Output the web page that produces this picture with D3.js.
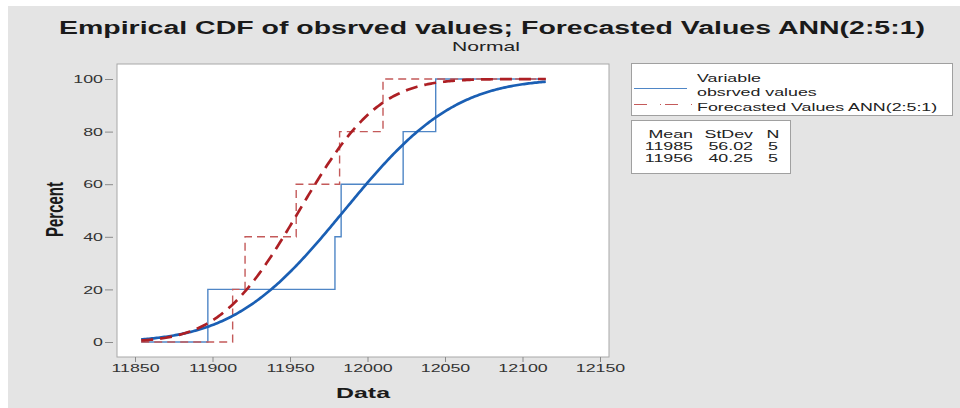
<!DOCTYPE html>
<html>
<head>
<meta charset="utf-8">
<script src="https://d3js.org/d3.v7.min.js"></script>
<style>
  body { margin: 0; background: #fff; }
  text { font-family: "Liberation Sans", Arial, sans-serif; }
</style>
</head>
<body>
<div id="chart"></div>
<script>
// values (sorted)
const observed = [11897, 11979, 11983, 12023, 12044];
const forecast = [11913, 11921, 11954, 11982, 12010];
const seriesNames = ["obsrved values", "Forecasted Values ANN(2:5:1)"];
const means = [11985, 11956];
const stdevs = [56.02, 40.25];
const counts = [5, 5];
const fitRange = [11854, 12115];
const xTicks = [11850, 11900, 11950, 12000, 12050, 12100, 12150];
const yTicks = [0, 20, 40, 60, 80, 100];

const width = 960, height = 408;
const SX = 1.55; // picture is stretched horizontally

const svg = d3.select("#chart").append("svg")
    .attr("width", width)
    .attr("height", height);

svg.append("rect")
    .attr("x", 8).attr("y", 6)
    .attr("width", width - 8).attr("height", height - 6)
    .attr("fill", "#e4e4e4");

const x = d3.scaleLinear().domain([11850, 12150]).range([135, 600]);
const y = d3.scaleLinear().domain([0, 100]).range([342, 79]);

// plot frame
svg.append("rect")
    .attr("x", 117).attr("y", 64)
    .attr("width", 609 - 117).attr("height", 357 - 64)
    .attr("fill", "#fff")
    .attr("stroke", "#a8a8a8");

// axes
const yAxis = svg.append("g")
    .attr("transform", "translate(113,0)")
    .call(d3.axisLeft(y).tickValues(yTicks).tickSize(8).tickPadding(2));
const xAxis = svg.append("g")
    .attr("transform", "translate(0,357)")
    .call(d3.axisBottom(x).tickValues(xTicks).tickFormat(d3.format("d")).tickSize(5).tickPadding(2));

[yAxis, xAxis].forEach(g => {
    g.select(".domain").remove();
    g.selectAll(".tick line").attr("stroke", "#8a8a8a");
    g.selectAll("text")
        .attr("font-size", 11.5)
        .attr("font-family", "Liberation Sans, Arial, sans-serif")
        .attr("fill", "#333")
        .attr("transform", `scale(${SX},1)`);
});
yAxis.selectAll("text").attr("x", -10 / SX);

// normal cdf
function erf(z) {
    const t = 1 / (1 + 0.3275911 * Math.abs(z));
    const p = t * (0.254829592 + t * (-0.284496736 + t * (1.421413741 + t * (-1.453152027 + t * 1.061405429))));
    const r = 1 - p * Math.exp(-z * z);
    return z >= 0 ? r : -r;
}
const normCdf = (v, m, s) => 50 * (1 + erf((v - m) / (s * Math.SQRT2)));

const fitLine = d3.line().x(d => x(d[0])).y(d => y(d[1]));
const stepLine = d3.line().x(d => x(d[0])).y(d => y(d[1])).curve(d3.curveStepAfter);

const styles = [
    {fit: "#1a5fb4", step: "#4f86c6", fitDash: null, stepDash: null},
    {fit: "#ad1f24", step: "#c45a5a", fitDash: "12,7", stepDash: "8,5"}
];

[observed, forecast].forEach((vals, i) => {
    const pts = [[fitRange[0], 0]];
    vals.forEach((v, j) => pts.push([v, (j + 1) / vals.length * 100]));
    pts.push([fitRange[1], 100]);
    svg.append("path")
        .attr("d", stepLine(pts))
        .attr("fill", "none")
        .attr("stroke", styles[i].step)
        .attr("stroke-width", 1.4)
        .attr("stroke-dasharray", styles[i].stepDash);
});

[0, 1].forEach(i => {
    const xs = d3.range(fitRange[0], fitRange[1] + 0.5, 1);
    svg.append("path")
        .attr("d", fitLine(xs.map(v => [v, normCdf(v, means[i], stdevs[i])])))
        .attr("fill", "none")
        .attr("stroke", styles[i].fit)
        .attr("stroke-width", 2.7)
        .attr("stroke-dasharray", styles[i].fitDash);
});

// helper for horizontally stretched text
function label(txt, px, py, size, opts = {}) {
    return svg.append("text")
        .attr("transform", `translate(${px},${py}) scale(${SX},1)` + (opts.rotate ? " rotate(-90)" : ""))
        .attr("font-size", size)
        .attr("font-weight", opts.bold ? "bold" : null)
        .attr("text-anchor", opts.anchor || "start")
        .attr("fill", opts.fill || "#222")
        .text(txt);
}

// titles
svg.append("text")
    .attr("x", 59).attr("y", 34)
    .attr("font-size", 18).attr("font-weight", "bold")
    .attr("fill", "#1a1a1a")
    .attr("textLength", 866).attr("lengthAdjust", "spacingAndGlyphs")
    .text("Empirical CDF of obsrved values; Forecasted Values ANN(2:5:1)");
svg.append("text")
    .attr("x", 452).attr("y", 51)
    .attr("font-size", 13.5)
    .attr("fill", "#222")
    .attr("textLength", 68).attr("lengthAdjust", "spacingAndGlyphs")
    .text("Normal");
svg.append("text")
    .attr("x", 336).attr("y", 398)
    .attr("font-size", 15).attr("font-weight", "bold")
    .attr("fill", "#1a1a1a")
    .attr("textLength", 54).attr("lengthAdjust", "spacingAndGlyphs")
    .text("Data");
label("Percent", 63, 209.5, 15, {bold: true, rotate: true, anchor: "middle", fill: "#1a1a1a"});

// legend
svg.append("rect")
    .attr("x", 631.5).attr("y", 63.5).attr("width", 321).attr("height", 52)
    .attr("fill", "#fff").attr("stroke", "#a0a0a0");
label("Variable", 697, 81.5, 11.5);
seriesNames.forEach((name, i) => {
    const ly = 88.5 + i * 16;
    svg.append("line")
        .attr("x1", 634).attr("x2", i ? 692 : 687)
        .attr("y1", ly).attr("y2", ly)
        .attr("stroke", styles[i].step)
        .attr("stroke-width", 1.2)
        .attr("stroke-dasharray", i ? "13,13,1,4" : null);
    label(name, 697, 96 + i * 15, 11.5);
});

// stats table
svg.append("rect")
    .attr("x", 631.5).attr("y", 120.5).attr("width", 159).attr("height", 53)
    .attr("fill", "#fff").attr("stroke", "#a0a0a0");
label("Mean", 693, 138, 11.5, {anchor: "end"});
label("StDev", 753, 138, 11.5, {anchor: "end"});
label("N", 773, 138, 11.5, {anchor: "middle"});
means.forEach((m, i) => {
    const ty = 150 + i * 12;
    label(d3.format("d")(m), 693, ty, 11.5, {anchor: "end"});
    label(d3.format(".2f")(stdevs[i]), 753, ty, 11.5, {anchor: "end"});
    label(counts[i], 773, ty, 11.5, {anchor: "middle"});
});
</script>
</body>
</html>
